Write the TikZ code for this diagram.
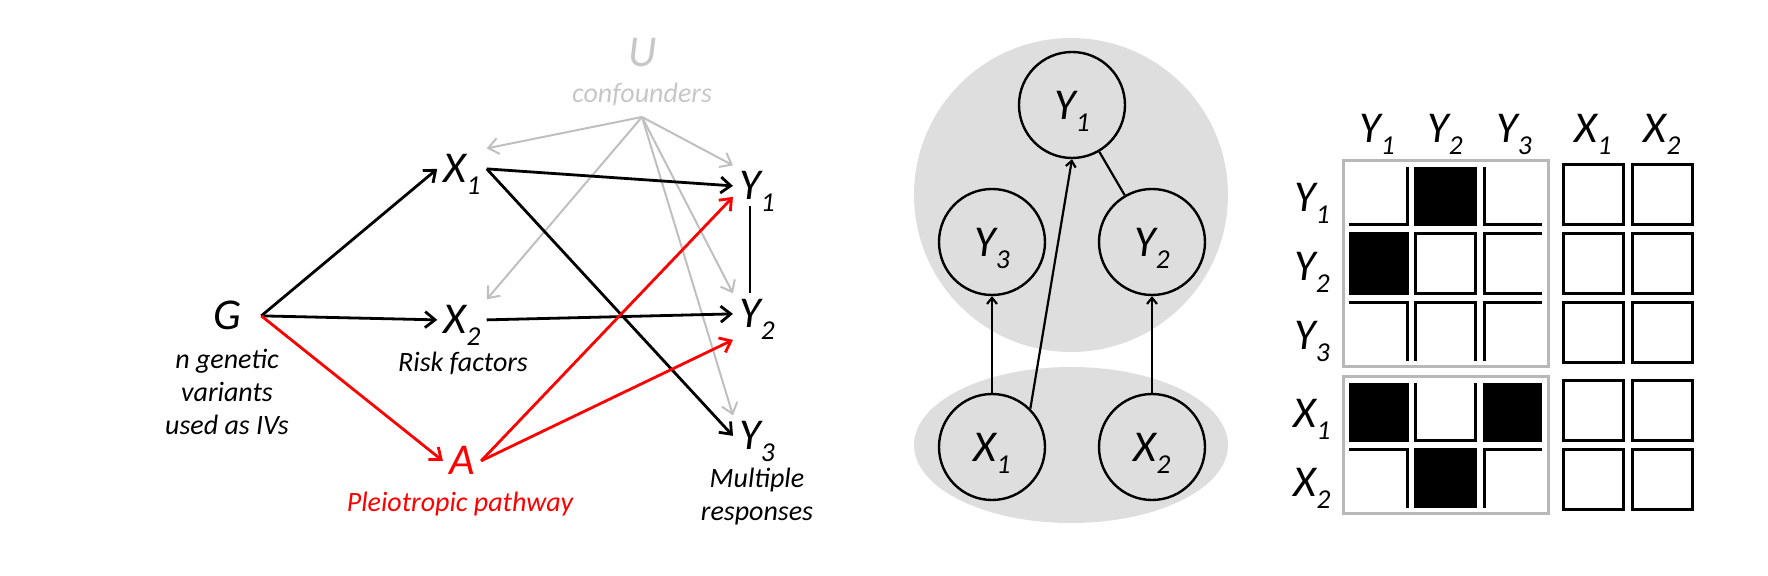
\documentclass[tikz,border=0pt]{standalone}
\usepackage{fontspec}
\setmainfont{Carlito}
\usetikzlibrary{arrows.meta}
\definecolor{confgray}{gray}{0.75}
\definecolor{ugray}{gray}{0.78}
\definecolor{bggray}{gray}{0.87}
\definecolor{framegray}{gray}{0.72}
\newcommand\vsub[2]{#1\raisebox{-6pt}[0pt][0pt]{\scalebox{0.62}{#2}}}
\begin{document}
\begin{tikzpicture}[x=0.5pt,y=-0.5pt,
    var/.style={font=\fontsize{22}{24}\selectfont\itshape, inner sep=3pt},
    note/.style={font=\fontsize{14}{16.5}\selectfont\itshape, align=center, inner sep=0pt},
    arr/.style={-{Straight Barb[length=5pt,width=8pt]}, line width=1.4pt},
    confarr/.style={-{Straight Barb[length=5pt,width=8pt]}, line width=1pt, confgray},
    mnode/.style={var, circle, draw, line width=1.2pt, minimum size=53pt},
    marr/.style={-{Straight Barb[length=3pt,width=5pt]}, line width=1.1pt},
    cell/.style={draw, line width=1.5pt}]
    \useasboundingbox (0,0) rectangle (1768,576);

    % causal graph
    \node[var, anchor=base, inner xsep=10pt] (G) at (227,330) {G};
    \node[var, anchor=base] (X1) at (462,183) {\vsub{X}{1}};
    \node[var, anchor=base] (X2) at (462,334) {\vsub{X}{2}};
    \node[var, anchor=base, red] (A) at (462,475) {A};
    \node[var, anchor=base] (Y1) at (757,200) {\vsub{Y}{1}};
    \node[var, anchor=base] (Y2) at (757,328) {\vsub{Y}{2}};
    \node[var, anchor=base] (Y3) at (757,450) {\vsub{Y}{3}};
    \node[var, anchor=base, ugray] (U) at (643,67) {U};
    \node[note, anchor=base, ugray] (conf) at (642,103) {confounders};
    \coordinate (usrc) at (642,117);
    \node[note, anchor=north] (gtxt) at (227,349) {n genetic\\variants\\used as IVs};
    \node[note, anchor=base] (risk) at (463,372) {Risk factors};
    \node[note, anchor=base, red] (pleio) at (460,512) {Pleiotropic pathway};
    \node[note, anchor=north] (multi) at (757,468) {Multiple\\responses};

    \draw[confarr] (usrc) -- (X1.north east);
    \draw[confarr] (usrc) -- (X2.north east);
    \draw[confarr] (usrc) -- (Y1.north west);
    \draw[confarr] (usrc) -- (Y2.north west);
    \draw[confarr] (usrc) -- (Y3.north west);

    \draw[arr] (G.east) -- (X1.west);
    \draw[arr] (G.east) -- (X2.west);
    \draw[arr] (X1.east) -- (Y1.west);
    \draw[arr] (X1.east) -- (Y3.west);
    \draw[arr] (X2.east) -- (Y2.west);
    \draw[line width=1.4pt] ([xshift=-3.5pt]Y1.south) -- ([xshift=-3.5pt]Y2.north);

    \draw[arr, red] (G.east) -- (A.west);
    \draw[arr, red] (A.east) -- ([yshift=-5.5pt]Y1.west);
    \draw[arr, red] (A.east) -- ([yshift=-13pt]Y2.west);

    % undirected / directed graph
    \fill[bggray] (1071,195) circle (157);
    \fill[bggray] (1071,445) ellipse [x radius=157, y radius=78];
    \node[mnode] (mY1) at (1072,105) {\vsub{Y}{1}};
    \node[mnode] (mY3) at (992,242) {\vsub{Y}{3}};
    \node[mnode] (mY2) at (1152,242) {\vsub{Y}{2}};
    \node[mnode] (mX1) at (992,447) {\vsub{X}{1}};
    \node[mnode] (mX2) at (1152,447) {\vsub{X}{2}};
    \draw[marr] (mX1) -- (mY3);
    \draw[marr] (mX1.45) -- (mY1.south);
    \draw[marr] (mX2) -- (mY2);
    \draw[line width=1.1pt] (mY1) -- (mY2);

    % adjacency matrix
    \node[var, anchor=base] (cY1) at (1377,143) {\vsub{Y}{1}};
    \node[var, anchor=base] (cY2) at (1445,143) {\vsub{Y}{2}};
    \node[var, anchor=base] (cY3) at (1514,143) {\vsub{Y}{3}};
    \node[var, anchor=base] (cX1) at (1593,143) {\vsub{X}{1}};
    \node[var, anchor=base] (cX2) at (1662,143) {\vsub{X}{2}};
    \node[var, anchor=base] (rY1) at (1312,212) {\vsub{Y}{1}};
    \node[var, anchor=base] (rY2) at (1312,281) {\vsub{Y}{2}};
    \node[var, anchor=base] (rY3) at (1312,350) {\vsub{Y}{3}};
    \node[var, anchor=base] (rX1) at (1312,428) {\vsub{X}{1}};
    \node[var, anchor=base] (rX2) at (1312,497) {\vsub{X}{2}};

    \foreach \cx in {1377,1445,1514,1593,1662}
        \foreach \cy in {195,264,333,411,480}
            \draw[cell] (\cx-30,\cy-30) rectangle (\cx+30,\cy+30);
    \foreach \cx/\cy in {1445/195,1377/264,1377/411,1514/411,1445/480}
        \draw[cell, fill=black] (\cx-30,\cy-30) rectangle (\cx+30,\cy+30);

    \draw[white, line width=2pt] (1347,165) rectangle (1544,363);
    \draw[white, line width=2pt] (1347,381) rectangle (1544,510);
    \draw[framegray, line width=1.5pt] (1343,161) rectangle (1548,367);
    \draw[framegray, line width=1.5pt] (1343,377) rectangle (1548,514);
\end{tikzpicture}
\end{document}
